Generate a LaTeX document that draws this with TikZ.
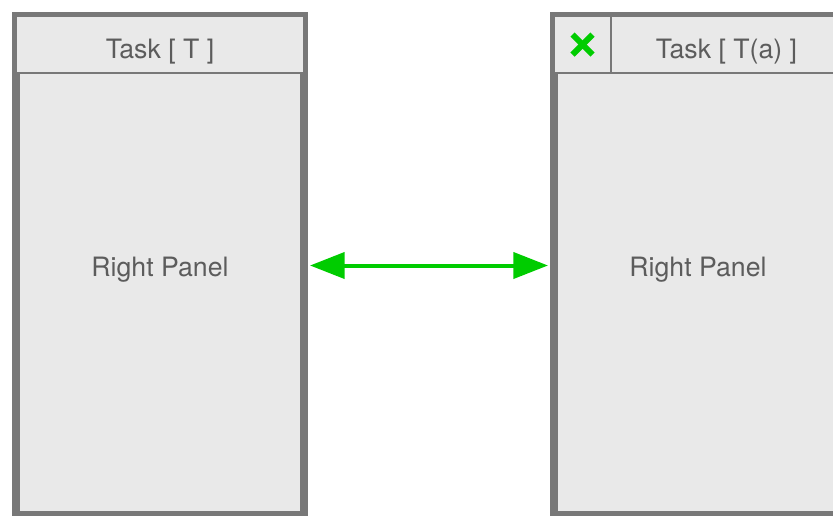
\documentclass[tikz,border=0pt]{standalone}
\usepackage{fontspec}
\setmainfont{TeX Gyre Heros}
\usepackage{tikz}
\usetikzlibrary{positioning,arrows.meta}
\definecolor{frame}{HTML}{787878}
\definecolor{panelbg}{HTML}{E9E9E9}
\definecolor{label}{HTML}{5C5C5C}
\definecolor{okgreen}{HTML}{00CC00}
\tikzset{
    panel/.style={draw=frame, line width=6pt, fill=panelbg, outer sep=0pt,
        minimum width=216pt, minimum height=374.25pt, text=label,
        text height=17.2pt, text depth=0pt,
        font=\fontsize{20}{24}\selectfont},
    head/.style={draw=frame, line width=1.5pt, fill=panelbg, outer sep=0pt,
        minimum height=42.75pt, text=label, inner sep=0pt,
        text height=20.7pt, text depth=0pt,
        font=\fontsize{20}{24}\selectfont},
    closebox/.style={head, minimum width=42.75pt,
        path picture={
            \draw[okgreen, line width=4.5pt]
                ([shift={(-7.5pt,-7.5pt)}]path picture bounding box.center)
                -- ([shift={(7.5pt,7.5pt)}]path picture bounding box.center);
            \draw[okgreen, line width=4.5pt]
                ([shift={(-7.5pt,7.5pt)}]path picture bounding box.center)
                -- ([shift={(7.5pt,-7.5pt)}]path picture bounding box.center);
        }},
    swap/.style={okgreen, line width=3pt,
        {Triangle[length=26pt,width=19.5pt]}-{Triangle[length=26pt,width=19.5pt]},
        shorten <=4.5pt, shorten >=4.5pt},
}
\begin{document}
\begin{tikzpicture}[x=0.75pt,y=-0.75pt]
   \useasboundingbox (0,0) rectangle (833,515);
   % the two panels
   \node[panel] (lp) at (160,265.5) {Right Panel};
   \node[panel] (rp) at (698,265.5) {Right Panel};
   % title bars
   \node[head, minimum width=216pt, below=0pt of lp.north] (lt) {Task [ T ]};
   \node[closebox, below right=0pt and 0pt of rp.north west] (rx) {};
   \node[head, minimum width=173.25pt, right=0pt of rx] (rt) {Task [ T(a) ]};
   % link
   \draw[swap] (lp.east) -- (rp.west);
\end{tikzpicture}
\end{document}
